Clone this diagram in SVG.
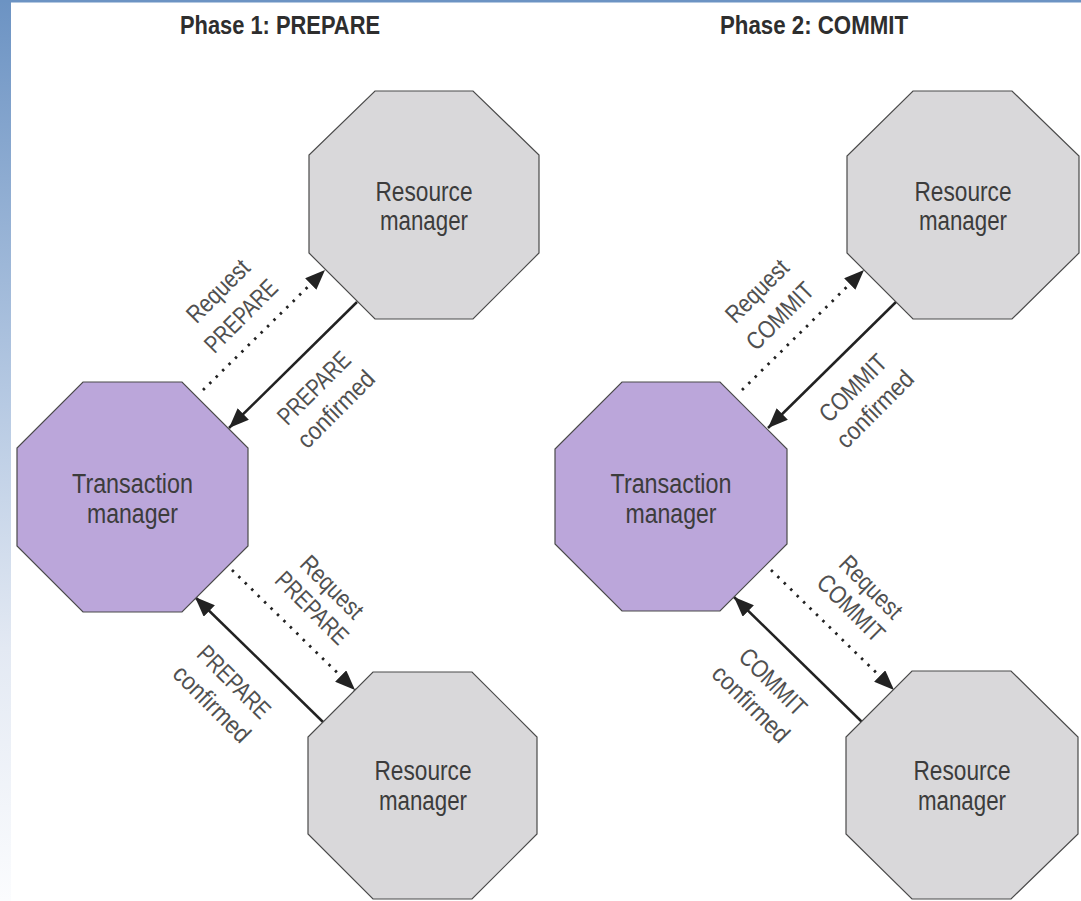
<svg xmlns="http://www.w3.org/2000/svg" width="1081" height="901" viewBox="0 0 1081 901">
<defs>
<linearGradient id="side" x1="0" y1="0" x2="0" y2="1">
<stop offset="0" stop-color="#6c93c3"/>
<stop offset="0.45" stop-color="#b7cae3"/>
<stop offset="0.72" stop-color="#e3e9f3"/>
<stop offset="1" stop-color="#fbfcfe"/>
</linearGradient>
<marker id="ah" markerWidth="20" markerHeight="16" refX="20" refY="8" orient="auto" markerUnits="userSpaceOnUse">
<path d="M0,0 L20,8 L0,16 z" fill="#222"/>
</marker>
<style>
.rm{fill:#d9d8da;stroke:#4a4a4a;stroke-width:1.2}
.tm{fill:#bba6da;stroke:#4a4a4a;stroke-width:1.2}
.nt{font-family:"Liberation Sans",Arial,sans-serif;font-size:27px;fill:#3c3c3c;text-anchor:middle}
.ttl{font-family:"Liberation Sans",Arial,sans-serif;font-size:26px;font-weight:bold;fill:#2e2e2e;text-anchor:middle}
.lb{font-family:"Liberation Sans",Arial,sans-serif;font-size:25px;fill:#505050;text-anchor:middle}
.sol{stroke:#222;stroke-width:2.5;fill:none}
.dot{stroke:#222;stroke-width:2.8;fill:none;stroke-dasharray:2.5 6.5}
</style>
</defs>
<rect x="0" y="0" width="1081" height="901" fill="#ffffff"/>
<rect x="0" y="0" width="11" height="901" fill="url(#side)"/>
<rect x="0" y="0" width="1081" height="2.5" fill="#6c93c3"/>

<text class="ttl" x="280" y="34" textLength="200" lengthAdjust="spacingAndGlyphs">Phase 1: PREPARE</text>
<text class="ttl" x="814" y="34" textLength="188" lengthAdjust="spacingAndGlyphs">Phase 2: COMMIT</text>

<g id="connectors">
<line class="dot" x1="203" y1="390" x2="325" y2="270" marker-end="url(#ah)"/>
<line class="sol" x1="357" y1="302" x2="229" y2="428" marker-end="url(#ah)"/>
<line class="dot" x1="232" y1="570" x2="355" y2="690" marker-end="url(#ah)"/>
<line class="sol" x1="323" y1="722" x2="195" y2="597" marker-end="url(#ah)"/>
<line class="dot" x1="742" y1="390" x2="864" y2="270" marker-end="url(#ah)"/>
<line class="sol" x1="896" y1="302" x2="768" y2="428" marker-end="url(#ah)"/>
<line class="dot" x1="771" y1="570" x2="894" y2="690" marker-end="url(#ah)"/>
<line class="sol" x1="862" y1="722" x2="734" y2="597" marker-end="url(#ah)"/>
</g>

<g id="labels">
<text class="lb" transform="translate(224,297) rotate(-45)" textLength="78" lengthAdjust="spacingAndGlyphs">Request</text>
<text class="lb" transform="translate(247,322) rotate(-45)" textLength="92" lengthAdjust="spacingAndGlyphs">PREPARE</text>
<text class="lb" transform="translate(320,394) rotate(-45)" textLength="92" lengthAdjust="spacingAndGlyphs">PREPARE</text>
<text class="lb" transform="translate(342,415) rotate(-45)" textLength="98" lengthAdjust="spacingAndGlyphs">confirmed</text>
<text class="lb" transform="translate(326,593) rotate(45)" textLength="78" lengthAdjust="spacingAndGlyphs">Request</text>
<text class="lb" transform="translate(306,614) rotate(45)" textLength="92" lengthAdjust="spacingAndGlyphs">PREPARE</text>
<text class="lb" transform="translate(228,688) rotate(45)" textLength="92" lengthAdjust="spacingAndGlyphs">PREPARE</text>
<text class="lb" transform="translate(206,710) rotate(45)" textLength="98" lengthAdjust="spacingAndGlyphs">confirmed</text>

<text class="lb" transform="translate(763,297) rotate(-45)" textLength="78" lengthAdjust="spacingAndGlyphs">Request</text>
<text class="lb" transform="translate(786,322) rotate(-45)" textLength="84" lengthAdjust="spacingAndGlyphs">COMMIT</text>
<text class="lb" transform="translate(859,394) rotate(-45)" textLength="84" lengthAdjust="spacingAndGlyphs">COMMIT</text>
<text class="lb" transform="translate(881,415) rotate(-45)" textLength="98" lengthAdjust="spacingAndGlyphs">confirmed</text>
<text class="lb" transform="translate(865,593) rotate(45)" textLength="78" lengthAdjust="spacingAndGlyphs">Request</text>
<text class="lb" transform="translate(845,614) rotate(45)" textLength="84" lengthAdjust="spacingAndGlyphs">COMMIT</text>
<text class="lb" transform="translate(767,688) rotate(45)" textLength="84" lengthAdjust="spacingAndGlyphs">COMMIT</text>
<text class="lb" transform="translate(745,710) rotate(45)" textLength="98" lengthAdjust="spacingAndGlyphs">confirmed</text>
</g>

<g id="rm1-top">
<polygon class="rm" points="375,91 473,91 539,155 539,253 473,319 375,319 309,253 309,155"/>
<text class="nt" x="424" y="201" textLength="97" lengthAdjust="spacingAndGlyphs">Resource</text>
<text class="nt" x="424" y="230" textLength="88" lengthAdjust="spacingAndGlyphs">manager</text>
</g>
<g id="tm1">
<polygon class="tm" points="83,382 182,382 248,448 248,546 182,612 83,612 17,546 17,448"/>
<text class="nt" x="132.5" y="493" textLength="121" lengthAdjust="spacingAndGlyphs">Transaction</text>
<text class="nt" x="132.5" y="523" textLength="91" lengthAdjust="spacingAndGlyphs">manager</text>
</g>
<g id="rm1-bottom">
<polygon class="rm" points="373,672 472,672 537,737 537,834 472,899 373,899 308,834 308,737"/>
<text class="nt" x="423" y="780" textLength="97" lengthAdjust="spacingAndGlyphs">Resource</text>
<text class="nt" x="423" y="810" textLength="88" lengthAdjust="spacingAndGlyphs">manager</text>
</g>

<g id="rm2-top">
<polygon class="rm" points="913,91 1012,91 1079,156 1079,253 1012,319 913,319 847,253 847,156"/>
<text class="nt" x="963" y="201" textLength="97" lengthAdjust="spacingAndGlyphs">Resource</text>
<text class="nt" x="963" y="230" textLength="88" lengthAdjust="spacingAndGlyphs">manager</text>
</g>
<g id="tm2">
<polygon class="tm" points="622,382 720,382 787,449 787,544 720,611 622,611 555,544 555,449"/>
<text class="nt" x="671" y="493" textLength="121" lengthAdjust="spacingAndGlyphs">Transaction</text>
<text class="nt" x="671" y="523" textLength="91" lengthAdjust="spacingAndGlyphs">manager</text>
</g>
<g id="rm2-bottom">
<polygon class="rm" points="912,671 1011,671 1078,737 1078,834 1011,899 912,899 846,834 846,737"/>
<text class="nt" x="962" y="780" textLength="97" lengthAdjust="spacingAndGlyphs">Resource</text>
<text class="nt" x="962" y="810" textLength="88" lengthAdjust="spacingAndGlyphs">manager</text>
</g>
</svg>
